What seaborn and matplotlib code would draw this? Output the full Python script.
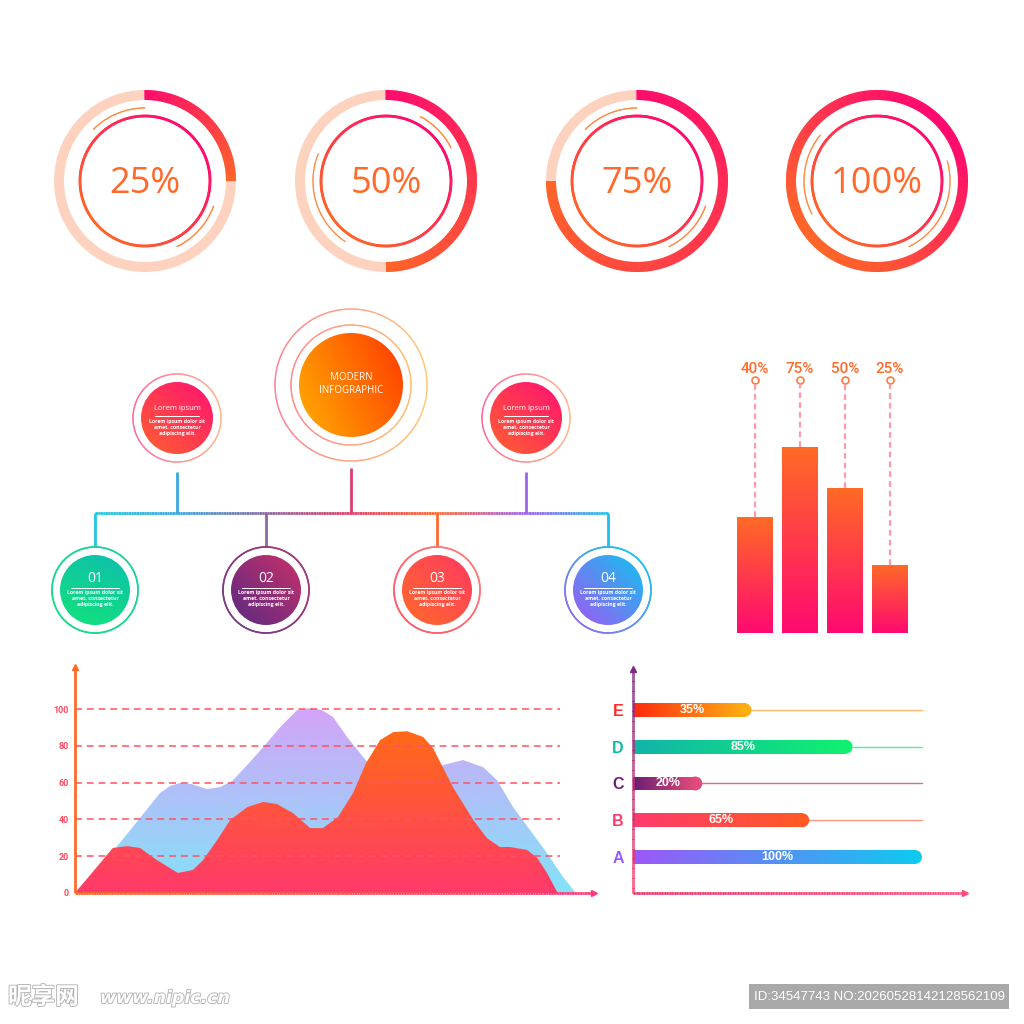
import numpy as np
import pandas as pd
import matplotlib
matplotlib.use("Agg")
import matplotlib.pyplot as plt
import seaborn as sns
from matplotlib.patches import Wedge, Circle, Ellipse, Rectangle
from matplotlib.collections import LineCollection
from matplotlib.colors import to_rgb, LinearSegmentedColormap
import matplotlib.patheffects as pe

# ---------------- data ----------------
ring_labels = ["25%", "50%", "75%", "100%"]
ring_values = [0.25, 0.50, 0.75, 1.00]

hub_title = "MODERN\nINFOGRAPHIC"
side_title = "Lorem ipsum"
body_text = "Lorem ipsum dolor sit\namet, consectetur\nadipiscing elit."
step_labels = ["01", "02", "03", "04"]

col_labels = ["40%", "75%", "50%", "25%"]
col_heights = [40, 64, 50, 23.5]

area_yticks = [0, 20, 40, 60, 80, 100]
back_x = [0, 8.9, 13.4, 17.5, 19.6, 21.6, 24.1, 27.2, 29.9, 32.4, 35.5, 38.8, 42.3, 45.8,
          48.5, 50.9, 53.2, 56.1, 60.4, 63.9, 68.0, 72.2, 75.9, 80.0, 84.1, 87.0, 90.3,
          93.8, 97.3, 100.6, 103.1, 103.3]
back_y = [0, 26.1, 40.8, 54.3, 58.2, 59.8, 59.2, 56.5, 57.6, 60.9, 69.6, 79.3, 90.2, 99.5,
          100.5, 99.5, 95.7, 84.8, 70.7, 62.0, 59.2, 63.6, 69.6, 72.3, 68.5, 61.4, 46.7,
          34.2, 21.7, 8.7, 0.5, 0]
front_x = [0, 4.5, 7.8, 10.7, 13.4, 16.9, 21.2, 24.3, 26.4, 29.3, 32.0, 35.5, 38.8, 41.6,
           44.9, 48.5, 51.1, 54.2, 57.3, 60.0, 62.9, 65.6, 68.5, 71.8, 73.8, 77.9, 82.1,
           84.9, 87.6, 89.7, 93.2, 95.3, 97.3, 99.4, 99.6]
front_y = [0, 14.1, 24.5, 25.5, 24.5, 17.9, 10.9, 12.5, 17.9, 28.8, 39.7, 46.7, 49.5, 48.4,
           43.5, 35.3, 35.3, 41.3, 54.3, 70.7, 83.2, 87.5, 88.0, 84.8, 78.8, 57.6, 39.7,
           29.9, 25.0, 25.0, 23.4, 19.0, 10.9, 0.5, 0]

hbar_cats = ["E", "D", "C", "B", "A"]
hbar_lengths = [41, 76, 24, 61, 100]
hbar_labels = ["35%", "85%", "20%", "65%", "100%"]

watermark_cn = "昵享网"
watermark_url = "www.nipic.cn"
watermark_id = "ID:34547743 NO:20260528142128562109"

# ---------------- style ----------------
sns.set_style("white")
plt.rcParams["font.family"] = ["Open Sans", "DejaVu Sans"]

W = H = 1024
fig = plt.figure(figsize=(W / 100, H / 100), dpi=100)
fig.patch.set_facecolor("white")
bg = fig.add_axes([0, 0, 1, 1])
bg.set_xlim(0, W)
bg.set_ylim(0, H)
bg.axis("off")


def Y(y):
    return H - y


def px_axes(x0, y0, x1, y1):
    ax = fig.add_axes([x0 / W, 1 - y1 / H, (x1 - x0) / W, (y1 - y0) / H])
    ax.set_facecolor("none")
    return ax


def mix(c1, c2, t):
    a = np.array(to_rgb(c1))
    b = np.array(to_rgb(c2))
    return tuple(a + (b - a) * t)


def gradient_fill(ax, extent, c0, c1, angle, clip, z=2):
    n = 96
    g = np.linspace(0, 1, n)
    X, Yg = np.meshgrid(g, g)
    a = np.radians(angle)
    T = (X - 0.5) * np.cos(a) + (Yg - 0.5) * np.sin(a)
    T = (T - T.min()) / (T.max() - T.min() + 1e-12)
    cmap = LinearSegmentedColormap.from_list("g", [c0, c1])
    im = ax.imshow(T, extent=extent, origin="lower", cmap=cmap, aspect="auto",
                   interpolation="bilinear", zorder=z, vmin=0, vmax=1)
    im.set_clip_path(clip)
    return im


def grad_circle(ax, cx, cy, r, c0, c1, angle, lw, z=3, t1=0, t2=360, n=240):
    th = np.radians(np.linspace(t1, t2, n + 1))
    pts = np.column_stack([cx + r * np.cos(th), cy + r * np.sin(th)])
    segs = np.stack([pts[:-1], pts[1:]], axis=1)
    mid = (th[:-1] + th[1:]) / 2
    t = (1 + np.cos(mid - np.radians(angle))) / 2
    cols = [mix(c0, c1, v) for v in t]
    lc = LineCollection(segs, colors=cols, linewidths=lw, zorder=z, capstyle="round")
    ax.add_collection(lc, autolim=False)


def grad_line(ax, x0, y0, x1, y1, stops, lw, transform=None, z=5, n=200):
    t = np.linspace(0, 1, n + 1)
    pts = np.column_stack([x0 + (x1 - x0) * t, y0 + (y1 - y0) * t])
    segs = np.stack([pts[:-1], pts[1:]], axis=1)
    cmap = LinearSegmentedColormap.from_list("l", stops)
    lc = LineCollection(segs, colors=cmap((t[:-1] + t[1:]) / 2), linewidths=lw,
                        transform=transform if transform is not None else ax.transData,
                        zorder=z, capstyle="butt")
    lc.set_clip_on(False)
    ax.add_collection(lc, autolim=False)


PINK = "#ff0a6e"
ORANGE = "#ff6428"
PEACH = "#fdd3bf"
TXT_OR = "#ff6a2a"

# ---------------- progress rings ----------------
ring_cx = [145, 386, 637, 877]
ring_cy = 181
thin_arcs = [[(90, 135), (-64, -20)], [(27, 62), (158, 236)],
             [(90, 135), (-64, -20)], [(141, 207), (-64, 16)]]
for cx, val, lab, arcs in zip(ring_cx, ring_values, ring_labels, thin_arcs):
    cy = Y(ring_cy)
    bg.add_patch(Wedge((cx, cy), 91, 0, 360, width=10, color=PEACH, lw=0, zorder=2))
    n = 240
    if val < 1:
        span = 360 * val
        m = int(n * val)
        for i in range(m):
            a0 = 90 - span * i / m
            a1 = 90 - span * (i + 1) / m
            bg.add_patch(Wedge((cx, cy), 91, a1, a0 + 0.4, width=10, lw=0, zorder=3,
                               color=mix(PINK, ORANGE, (i + 0.5) / m)))
    else:
        for i in range(n):
            a0 = 360 * i / n
            a1 = 360 * (i + 1) / n
            mid = np.radians((a0 + a1) / 2)
            t = (1 + np.cos(mid - np.radians(45))) / 2
            bg.add_patch(Wedge((cx, cy), 91, a0, a1 + 0.4, width=10, lw=0, zorder=3,
                               color=mix(ORANGE, PINK, t)))
    grad_circle(bg, cx, cy, 65, ORANGE, PINK, 45, 2.0)
    for (t1, t2) in arcs:
        grad_circle(bg, cx, cy, 73, "#ff8a40", "#ff8a40", 0, 0.9, t1=t1, t2=t2, n=60)
    bg.text(cx, cy - 3, lab, ha="center", va="center", fontsize=26, color=TXT_OR,
            family=["Open Sans", "DejaVu Sans"], zorder=4)

# ---------------- hub and nodes ----------------
hub = (351, 385)
hx, hy = hub[0], Y(hub[1])
grad_circle(bg, hx, hy, 76, "#ff8090", "#ffc878", 0, 1.0)
grad_circle(bg, hx, hy, 60, "#ff8a90", "#ffc070", 0, 1.0)
hc = Circle((hx, hy), 52, transform=bg.transData)
gradient_fill(bg, [hx - 52, hx + 52, hy - 52, hy + 52], "#ffae00", "#ff3a00", 25, hc, z=3)
bg.text(hx, hy + 1, hub_title, ha="center", va="center", color="white", fontsize=7,
        linespacing=1.35, zorder=5)

side_nodes = [(177, 418), (526, 418)]
for (sx, sy) in side_nodes:
    x, y = sx, Y(sy)
    grad_circle(bg, x, y, 44, "#ff6aa0", "#ffb890", 0, 1.0)
    c = Circle((x, y), 36, transform=bg.transData)
    gradient_fill(bg, [x - 36, x + 36, y - 36, y + 36], "#ff6030", "#ff1272", 50, c, z=3)
    bg.text(x, Y(409), side_title, ha="center", va="center", color="white", fontsize=5.5, zorder=5)
    bg.plot([x - 22, x + 22], [Y(415.5)] * 2, color="white", lw=0.7, zorder=5)
    bg.text(x, Y(427.5), body_text, ha="center", va="center", color="white", fontsize=3.7,
            fontweight="bold", linespacing=1.25, zorder=5)

step_x = [95, 266, 437, 608]
step_fill = [("#12e27a", "#0fbfae", 70), ("#5a2a82", "#c8306a", 45),
             ("#ff6a2a", "#ff3a62", 45), ("#a058f2", "#12c2f0", 45)]
step_ring = [("#18dc8a", "#22d0a0"), ("#7a3a86", "#a03a78"),
             ("#ff5a6a", "#ff7a7a"), ("#8a70f0", "#20c0f0")]
for sx, lab, (f0, f1, ang), (r0, r1) in zip(step_x, step_labels, step_fill, step_ring):
    x, y = sx, Y(590)
    grad_circle(bg, x, y, 43, r0, r1, 45, 1.2)
    c = Circle((x, y), 35, transform=bg.transData)
    gradient_fill(bg, [x - 35, x + 35, y - 35, y + 35], f0, f1, ang, c, z=3)
    bg.text(x, Y(579), lab, ha="center", va="center", color="white", fontsize=10, zorder=5)
    bg.plot([x - 24, x + 24], [Y(587.5)] * 2, color="white", lw=0.7, zorder=5)
    bg.text(x, Y(598.5), body_text, ha="center", va="center", color="white", fontsize=3.7,
            fontweight="bold", linespacing=1.25, zorder=5)

# connectors
conn_stops = [(0.0, "#1ec8e0"), (0.16, "#3aa8e0"), (0.333, "#8a6aa0"), (0.499, "#e0406a"),
              (0.666, "#ff6a30"), (0.84, "#a060f0"), (1.0, "#1ec0e8")]
grad_line(bg, 95, Y(513), 608, Y(513), conn_stops, 2.0, z=2)
for x, y0, y1, col in [(177, 472, 513, "#3aa8dc"), (351, 468, 513, "#d8406c"),
                       (526, 472, 513, "#a062ee"), (95, 513, 547, "#1ec8e0"),
                       (266, 513, 547, "#8a6aa0"), (437, 513, 547, "#ff6a30"),
                       (608, 513, 547, "#1ec0e8")]:
    bg.plot([x, x], [Y(y0), Y(y1)], color=col, lw=2.0, zorder=2, solid_capstyle="butt")

# ---------------- vertical bar chart ----------------
axb = px_axes(732.5, 343, 912.5, 633)
dfc = pd.DataFrame({"label": col_labels, "height": col_heights})
sns.barplot(data=dfc, x="label", y="height", ax=axb, width=0.8, color=ORANGE,
            saturation=1, errorbar=None)
for p, lab in zip(axb.patches, col_labels):
    x0, w, h = p.get_x(), p.get_width(), p.get_height()
    gradient_fill(axb, [x0, x0 + w, 0, h], "#ff0a70", "#ff6a26", 90, p, z=2)
    p.set_facecolor("none")
    p.set_edgecolor("none")
    xc = x0 + w / 2
    axb.plot([xc, xc], [h, 85.6], color="#ff9aaa", lw=1.6, ls=(0, (2.6, 1.8)), zorder=1)
    axb.plot([xc], [87.2], marker="o", ms=5, mfc="white", mec="#ff7a40", mew=1.2,
             zorder=3, clip_on=False)
    axb.text(xc, 91.2, lab, ha="center", va="center", color=TXT_OR, fontsize=11,
             fontweight="medium", family=["Roboto", "DejaVu Sans"], clip_on=False)
axb.set_xlim(-0.5, 3.5)
axb.set_ylim(0, 100)
axb.axis("off")

# ---------------- area chart ----------------
axa = px_axes(75, 665, 597, 893)
XMAX, YMAX = 107.6, 124
back_patch = axa.fill(back_x, back_y, facecolor="none", edgecolor="none")[0]
front_patch = axa.fill(front_x, front_y, facecolor="none", edgecolor="none")[0]
gradient_fill(axa, [0, XMAX, 0, 101], "#84e2f8", "#d4a4f8", 90, back_patch, z=2)
gradient_fill(axa, [0, XMAX, 0, 88], "#ff3a6a", "#ff6a18", 90, front_patch, z=3)
for v in area_yticks[1:]:
    axa.plot([0, 100], [v, v], color="#ff5262", lw=1.1, ls=(0, (4.5, 3.2)), zorder=4)
axa.set_xlim(0, XMAX)
axa.set_ylim(0, YMAX)
axa.set_xticks([])
axa.set_yticks(area_yticks, labels=[str(v) for v in area_yticks])
axa.tick_params(axis="y", length=0, pad=4.5, labelsize=6.5, labelcolor="#ff4a5c")
for t in axa.get_yticklabels():
    t.set_fontweight("bold")
    t.set_family(["Roboto", "DejaVu Sans"])
for s in axa.spines.values():
    s.set_visible(False)
axa.plot([0, 0], [0, YMAX - 2], color="#ff6a28", lw=2, zorder=6, clip_on=False,
         solid_capstyle="butt")
axa.plot([0], [YMAX - 1.2], marker="^", ms=5, color="#ff6a28", zorder=6, clip_on=False)
grad_line(axa, 0, 0, XMAX - 1, 0, ["#ff6a28", "#ff3a7a"], 2.0, z=6)
axa.plot([XMAX - 0.6], [0], marker=">", ms=5, color="#ff3a7a", zorder=6, clip_on=False)

# ---------------- horizontal bar chart ----------------
axh = px_axes(633, 667, 967, 893)
HX = 115.6
dfh = pd.DataFrame({"cat": hbar_cats, "length": hbar_lengths})
sns.barplot(data=dfh, x="length", y="cat", orient="h", ax=axh, width=0.38,
            color="gray", saturation=1, errorbar=None)
hbar_grad = [("#ff2a0e", "#ffae12"), ("#12b4aa", "#10f070"), ("#6a1e72", "#e44a7c"),
             ("#ff3a6c", "#ff5a26"), ("#9c58f8", "#10c8f0")]
track_cols = ["#ffb870", "#4ef09a", "#d868a8", "#ff9a80", "#40c8f0"]
label_cols = ["#ff2a2a", "#10b8a8", "#6a2070", "#ff3a6a", "#9a5af8"]
rx = 7 / 2.89
for p, lab, (c0, c1), tc in zip(axh.patches, hbar_labels, hbar_grad, track_cols):
    x0, w = p.get_x(), p.get_width()
    y0, h = p.get_y(), p.get_height()
    yc = y0 + h / 2
    rect = Rectangle((x0, y0), w - rx, h, transform=axh.transData)
    gradient_fill(axh, [x0, x0 + w - rx, y0 + h, y0], c0, c1, 0, rect, z=3)
    axh.add_patch(Ellipse((w - rx, yc), 2 * rx, h, color=c1, lw=0, zorder=2))
    p.set_facecolor("none")
    p.set_edgecolor("none")
    axh.plot([w, 100], [yc, yc], color=tc, lw=1.0, zorder=1)
    axh.text((x0 + w) / 2, yc, lab, ha="center", va="center", color="white",
             fontsize=9, fontweight="bold", family=["Liberation Sans", "DejaVu Sans"],
             zorder=5)
axh.set_xlim(0, HX)
axh.set_ylim(4.98, -1.17)
axh.set_xticks([])
axh.set_xlabel("")
axh.set_ylabel("")
axh.set_yticks(range(len(hbar_cats)), labels=hbar_cats)
axh.tick_params(axis="y", length=0, pad=6.5, labelsize=11.5)
for t, c in zip(axh.get_yticklabels(), label_cols):
    t.set_color(c)
    t.set_fontweight("bold")
    t.set_family(["Liberation Sans", "DejaVu Sans"])
for s in axh.spines.values():
    s.set_visible(False)
grad_line(axh, 0, 0, 0, 0.985, ["#ff3a6a", "#7a2a80"], 2.0, transform=axh.transAxes, z=6)
axh.plot([0], [0.99], marker="^", ms=5, color="#7a2a80", transform=axh.transAxes,
         clip_on=False, zorder=6)
grad_line(axh, 0, 0, 0.99, 0, ["#e8306a", "#ff4a80"], 2.0, transform=axh.transAxes, z=6)
axh.plot([0.995], [0], marker=">", ms=5, color="#ff4a80", transform=axh.transAxes,
         clip_on=False, zorder=6)

# ---------------- watermark ----------------
outline = [pe.withStroke(linewidth=1.3, foreground="#b4b4b4")]
bg.text(8, Y(997), watermark_cn, ha="left", va="center", fontsize=17, color="white",
        family=["Noto Sans CJK SC", "DejaVu Sans"], fontweight="bold",
        path_effects=outline, zorder=5)
bg.text(100, Y(998), watermark_url, ha="left", va="center", fontsize=12.5, color="white",
        family=["DejaVu Sans"], fontstyle="italic", fontweight="bold",
        path_effects=outline, zorder=5)
bg.add_patch(Rectangle((749, Y(1009)), 260, 25, color="#a9a9a9", lw=0, zorder=4))
bg.text(879, Y(996.5), watermark_id, ha="center", va="center", fontsize=9.5, color="white",
        family=["Liberation Sans", "DejaVu Sans"], zorder=5)

fig.savefig("out.png", dpi=100, facecolor="white")
